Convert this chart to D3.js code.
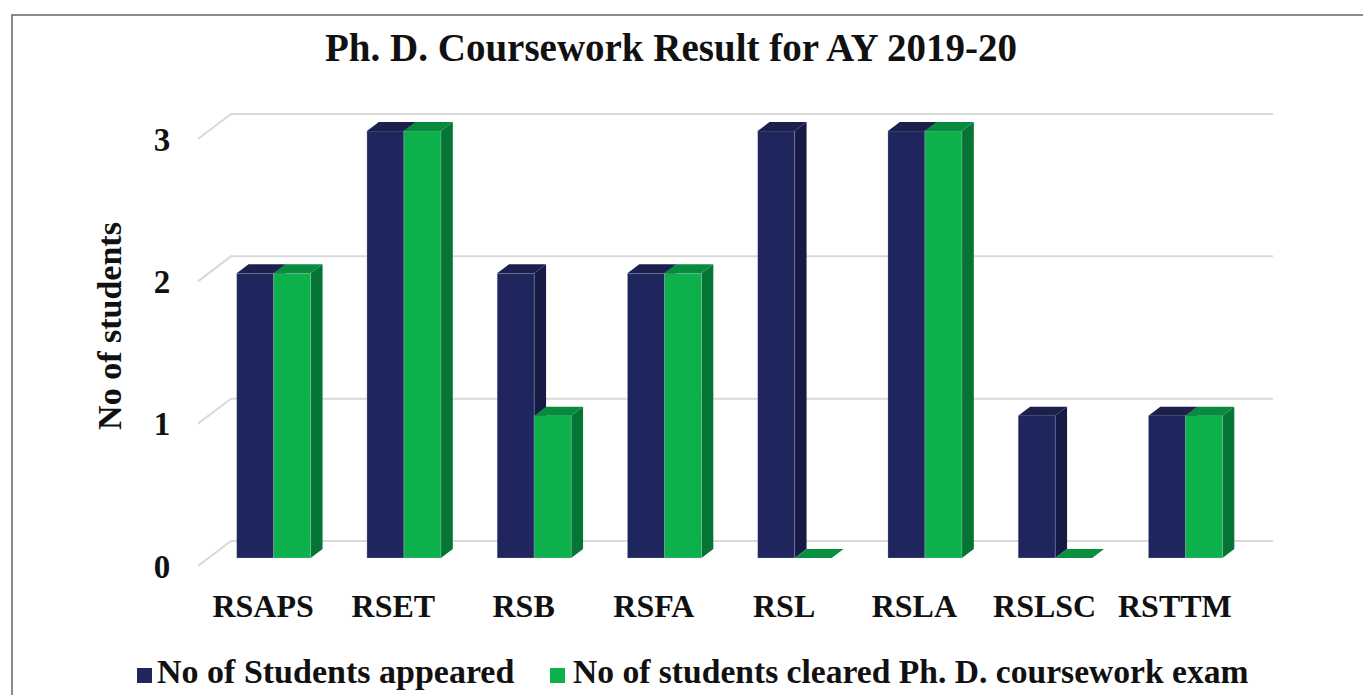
<!DOCTYPE html>
<html>
<head>
<meta charset="utf-8">
<script src="https://cdn.jsdelivr.net/npm/d3@7"></script>
<style>
	body { margin: 0; background: #fff; }
	svg { display: block; font-family: "Liberation Serif", "Times New Roman", serif; font-weight: bold; }
	.grid { fill: none; stroke: #d9d9d9; stroke-width: 2; }
</style>
</head>
<body>
<svg id="chart" width="1363" height="695"></svg>
<script>
	//data
	var categories = ["RSAPS", "RSET", "RSB", "RSFA", "RSL", "RSLA", "RSLSC", "RSTTM"];
	var seriesNames = ["No of Students appeared", "No of students cleared Ph. D. coursework exam"];
	var appeared = [2, 3, 2, 2, 3, 3, 1, 1];
	var cleared = [2, 3, 1, 2, 0, 3, 0, 1];
	var yTicks = [0, 1, 2, 3];

	//colours: front, side, top for each series
	var colors = [
		{front: "#1f265e", side: "#161a44", top: "#1b204f"},
		{front: "#0db14b", side: "#047534", top: "#088b3e"}
	];

	var svg = d3.select("#chart");

	//outer frame, runs off the right and bottom of the picture
	svg.append("rect")
		.attr("x", 12).attr("y", 15)
		.attr("width", 1400).attr("height", 720)
		.attr("fill", "none")
		.attr("stroke", "#666")
		.attr("stroke-width", 1.5);

	//back wall coords, and the depth vector from back wall to front of floor
	var depth = {x: -33, y: 25};
	var x = d3.scaleBand()
		.domain(categories)
		.range([231, 1273])
		.paddingInner(0.432)
		.paddingOuter(0.216);
	var x1 = d3.scaleBand()
		.domain([0, 1])
		.range([0, x.bandwidth()]);
	var y = d3.scaleLinear()
		.domain([0, 3])
		.range([541, 114]);

	function proj(px, py, f) {
		return [px + f * depth.x, py + f * depth.y];
	}

	//gridlines with their little diagonal on the floor side
	yTicks.forEach(function(t) {
		var pts = [proj(x.range()[0], y(t), 1), proj(x.range()[0], y(t), 0), proj(x.range()[1], y(t), 0)];
		svg.append("polyline")
			.attr("class", "grid")
			.attr("points", pts.map(function(p) { return p.join(","); }).join(" "));
	});

	//y tick labels, at the front end of each gridline
	svg.selectAll("text.ytick")
		.data(yTicks)
		.enter().append("text")
		.attr("class", "ytick")
		.attr("x", 162)
		.attr("y", function(d) { return proj(0, y(d), 1)[1]; })
		.attr("dy", "0.35em")
		.attr("text-anchor", "middle")
		.attr("font-size", 33)
		.attr("fill", "#111")
		.text(function(d) { return d; });

	//bars sit in the middle of the floor depth
	var fFront = 0.68, fBack = 0.32;
	function poly(pts) {
		return pts.map(function(p) { return p.join(","); }).join(" ");
	}
	function draw_bar(cat, s, v) {
		var x0 = x(cat) + x1(s), xr = x0 + x1.bandwidth();
		var yt = y(v), yb = y(0);
		var c = colors[s];
		var g = svg.append("g").attr("class", "bar s" + s);
		if (v > 0) {
			//side face
			g.append("polygon")
				.attr("points", poly([proj(xr, yt, fFront), proj(xr, yt, fBack), proj(xr, yb, fBack), proj(xr, yb, fFront)]))
				.attr("fill", c.side);
			//front face
			var fl = proj(x0, yt, fFront), br = proj(xr, yb, fFront);
			g.append("rect")
				.attr("x", fl[0]).attr("y", fl[1])
				.attr("width", br[0] - fl[0]).attr("height", br[1] - fl[1])
				.attr("fill", c.front)
				.attr("stroke", "#c9cbe0").attr("stroke-opacity", 0.35).attr("stroke-width", 0.8);
		}
		//top face
		g.append("polygon")
			.attr("points", poly([proj(x0, yt, fFront), proj(xr, yt, fFront), proj(xr, yt, fBack), proj(x0, yt, fBack)]))
			.attr("fill", v > 0 ? c.top : "#06903f");
	}
	categories.forEach(function(cat, i) {
		draw_bar(cat, 0, appeared[i]);
		draw_bar(cat, 1, cleared[i]);
	});

	//x labels, centred on the front edge of the floor
	svg.selectAll("text.xtick")
		.data(categories)
		.enter().append("text")
		.attr("class", "xtick")
		.attr("x", function(d) { return proj(x(d) + x.bandwidth() / 2, 0, 1)[0]; })
		.attr("y", 617)
		.attr("text-anchor", "middle")
		.attr("font-size", 32)
		.attr("fill", "#111")
		.text(function(d) { return d; });

	//title
	svg.append("text")
		.attr("x", 671).attr("y", 61)
		.attr("text-anchor", "middle")
		.attr("font-size", 39)
		.attr("fill", "#111")
		.text("Ph. D. Coursework Result for AY 2019-20");

	//y axis title
	svg.append("text")
		.attr("transform", "translate(121,326) rotate(-90)")
		.attr("text-anchor", "middle")
		.attr("font-size", 34)
		.attr("fill", "#111")
		.text("No of students");

	//legend
	var legendPos = [{sq: 137, tx: 157}, {sq: 550, tx: 573}];
	seriesNames.forEach(function(name, s) {
		svg.append("rect")
			.attr("x", legendPos[s].sq).attr("y", 668)
			.attr("width", 15).attr("height", 15)
			.attr("fill", colors[s].front);
		svg.append("text")
			.attr("x", legendPos[s].tx).attr("y", 683)
			.attr("font-size", s == 0 ? 34 : 33.6)
			.attr("fill", "#111")
			.text(name);
	});
</script>
</body>
</html>
